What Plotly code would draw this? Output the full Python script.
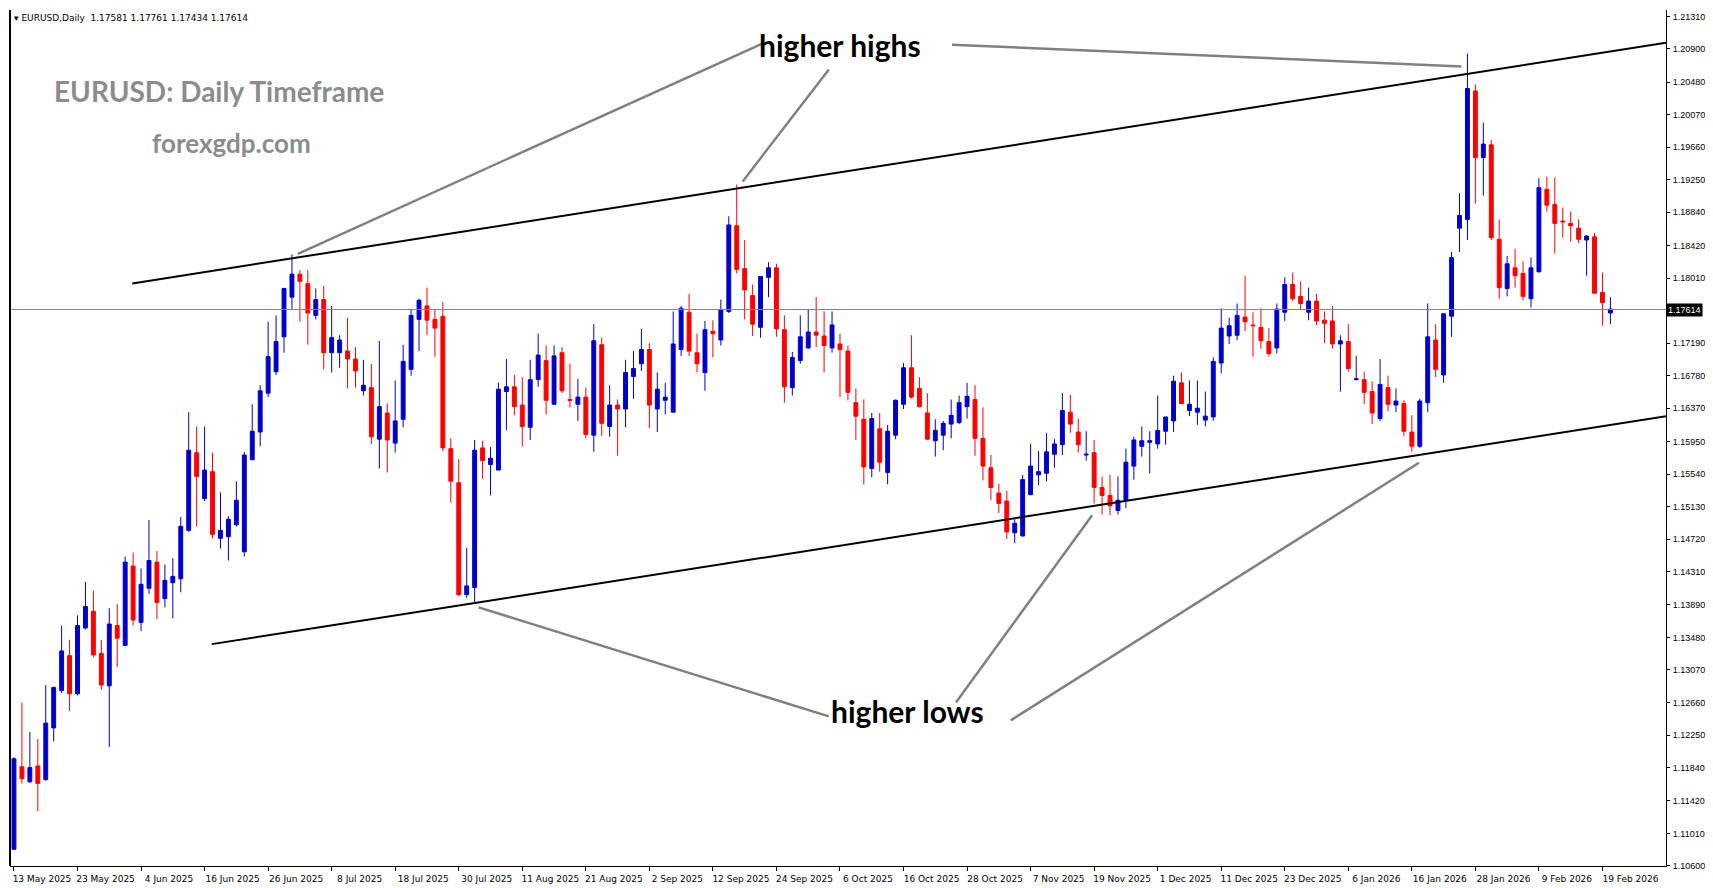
import plotly.graph_objects as go

opens = [1.1081,1.1185,1.1166,1.1186,1.1169,1.1234,1.1281,1.1325,1.1277,1.1360,
1.1381,1.1328,1.1287,1.1363,1.1338,1.1438,1.1367,1.1410,1.1443,1.1397,
1.1417,1.1422,1.1483,1.1581,1.1523,1.1557,1.1473,1.1475,1.1490,1.1456,
1.1572,1.1607,1.1656,1.1683,1.1727,1.1777,1.1806,1.1794,1.1754,1.1774,
1.1707,1.1707,1.1709,1.1699,1.1659,1.1663,1.1598,1.1631,1.1593,1.1623,
1.1686,1.1749,1.1766,1.1749,1.1753,1.1586,1.1543,1.1402,1.1411,1.1587,
1.1566,1.1559,1.1658,1.1664,1.1641,1.1613,1.1673,1.1697,1.1642,1.1707,
1.1648,1.1642,1.1651,1.1603,1.1717,1.1614,1.1641,1.1636,1.1677,1.1693,
1.1711,1.1636,1.1647,1.1632,1.1711,1.1758,1.1707,1.1682,1.1734,1.1723,
1.1759,1.1867,1.1813,1.1779,1.1739,1.1802,1.1814,1.1736,1.1663,1.1697,
1.1713,1.1733,1.1728,1.1713,1.1718,1.1709,1.1644,1.1623,1.1561,1.1611,
1.1556,1.1603,1.1642,1.1688,1.1662,1.1631,1.1596,1.1603,1.1617,1.1619,
1.1639,1.1648,1.1599,1.1562,1.1530,1.1520,1.1480,1.1476,1.1528,1.1553,
1.1555,1.1579,1.1591,1.1632,1.1607,1.1578,1.1581,1.1537,1.1527,1.1508,
1.1521,1.1564,1.1589,1.1594,1.1592,1.1608,1.1621,1.1669,1.1634,1.1632,
1.1622,1.1626,1.1694,1.1728,1.1729,1.1752,1.1742,1.1739,1.1721,1.1713,
1.1758,1.1793,1.1778,1.1758,1.1772,1.1748,1.1747,1.1718,1.1721,1.1673,
1.1673,1.1658,1.1624,1.1663,1.1641,1.1643,1.1607,1.1589,1.1644,1.1723,
1.1679,1.1753,1.1864,1.1875,1.2037,1.1953,1.1969,1.1850,1.1788,1.1814,
1.1807,1.1775,1.1809,1.1913,1.1894,1.1873,1.1870,1.1864,1.1849,1.1853,
1.1783,1.1757]

highs = [1.1197,1.1266,1.1229,1.1220,1.1288,1.1286,1.1363,1.1345,1.1376,1.1418,
1.1407,1.1345,1.1385,1.1390,1.1450,1.1455,1.1435,1.1496,1.1457,1.1440,
1.1448,1.1500,1.1632,1.1614,1.1614,1.1581,1.1531,1.1501,1.1545,1.1582,
1.1642,1.1666,1.1746,1.1754,1.1788,1.1831,1.1811,1.1811,1.1788,1.1791,
1.1766,1.1729,1.1751,1.1714,1.1698,1.1693,1.1722,1.1643,1.1672,1.1717,
1.1761,1.1775,1.1789,1.1761,1.1771,1.1599,1.1573,1.1461,1.1597,1.1596,
1.1588,1.1669,1.1699,1.1679,1.1676,1.1698,1.1731,1.1716,1.1716,1.1714,
1.1693,1.1674,1.1663,1.1743,1.1726,1.1666,1.1648,1.1698,1.1709,1.1737,
1.1719,1.1682,1.1669,1.1759,1.1766,1.1781,1.1731,1.1747,1.1748,1.1774,
1.1879,1.1919,1.1849,1.1793,1.1803,1.1821,1.1819,1.1754,1.1708,1.1754,
1.1762,1.1777,1.1759,1.1759,1.1731,1.1716,1.1662,1.1648,1.1631,1.1631,
1.1616,1.1648,1.1694,1.1729,1.1676,1.1656,1.1623,1.1621,1.1648,1.1653,
1.1669,1.1666,1.1638,1.1578,1.1542,1.1533,1.1497,1.1553,1.1592,1.1583,
1.1606,1.1598,1.1656,1.1654,1.1624,1.1608,1.1597,1.1551,1.1553,1.1551,
1.1586,1.1601,1.1614,1.1608,1.1653,1.1626,1.1678,1.1682,1.1672,1.1672,
1.1658,1.1701,1.1763,1.1751,1.1769,1.1804,1.1758,1.1763,1.1738,1.1769,
1.1802,1.1808,1.1797,1.1789,1.1781,1.1759,1.1766,1.1729,1.1743,1.1703,
1.1683,1.1671,1.1699,1.1678,1.1662,1.1647,1.1628,1.1649,1.1769,1.1743,
1.1757,1.1834,1.1908,1.2084,1.2045,1.1997,1.1975,1.1875,1.1829,1.1838,
1.1822,1.1827,1.1927,1.1929,1.1928,1.1890,1.1885,1.1875,1.1855,1.1858,
1.1808,1.1777]

lows = [1.1080,1.1164,1.1165,1.1129,1.1167,1.1217,1.1278,1.1255,1.1275,1.1358,
1.1323,1.1282,1.1210,1.1311,1.1337,1.1363,1.1356,1.1403,1.1371,1.1386,
1.1372,1.1405,1.1481,1.1488,1.1520,1.1473,1.1460,1.1445,1.1488,1.1450,
1.1572,1.1589,1.1651,1.1679,1.1707,1.1761,1.1746,1.1717,1.1749,1.1686,
1.1682,1.1688,1.1662,1.1663,1.1653,1.1592,1.1561,1.1556,1.1581,1.1613,
1.1678,1.1709,1.1729,1.1702,1.1583,1.1518,1.1400,1.1398,1.1391,1.1548,
1.1527,1.1559,1.1609,1.1628,1.1589,1.1597,1.1664,1.1629,1.1641,1.1656,
1.1638,1.1621,1.1599,1.1582,1.1602,1.1601,1.1577,1.1613,1.1649,1.1684,
1.1612,1.1607,1.1629,1.1632,1.1703,1.1703,1.1682,1.1659,1.1701,1.1716,
1.1757,1.1807,1.1749,1.1728,1.1726,1.1777,1.1727,1.1644,1.1653,1.1693,
1.1712,1.1714,1.1682,1.1707,1.1651,1.1647,1.1597,1.1541,1.1550,1.1557,
1.1541,1.1598,1.1636,1.1649,1.1638,1.1597,1.1576,1.1584,1.1599,1.1617,
1.1624,1.1577,1.1546,1.1521,1.1505,1.1472,1.1467,1.1475,1.1528,1.1540,
1.1545,1.1562,1.1578,1.1606,1.1581,1.1571,1.1517,1.1503,1.1502,1.1503,
1.1511,1.1547,1.1576,1.1555,1.1586,1.1591,1.1607,1.1642,1.1627,1.1616,
1.1614,1.1621,1.1681,1.1718,1.1723,1.1734,1.1702,1.1712,1.1702,1.1706,
1.1747,1.1772,1.1761,1.1748,1.1742,1.1719,1.1712,1.1658,1.1683,1.1672,
1.1642,1.1617,1.1621,1.1633,1.1632,1.1602,1.1582,1.1587,1.1632,1.1676,
1.1669,1.1727,1.1834,1.1849,1.1895,1.1905,1.1849,1.1775,1.1778,1.1789,
1.1773,1.1764,1.1808,1.1885,1.1832,1.1852,1.1847,1.1845,1.1804,1.1782,
1.1741,1.1743]

closes = [1.1195,1.1170,1.1184,1.1164,1.1240,1.1285,1.1331,1.1277,1.1363,1.1387,
1.1326,1.1288,1.1365,1.1347,1.1443,1.1370,1.1415,1.1445,1.1392,1.1420,
1.1425,1.1488,1.1584,1.1551,1.1559,1.1478,1.1483,1.1497,1.1521,1.1578,
1.1608,1.1659,1.1702,1.1721,1.1788,1.1806,1.1797,1.1757,1.1774,1.1707,
1.1726,1.1723,1.1699,1.1684,1.1666,1.1601,1.1639,1.1597,1.1621,1.1696,
1.1754,1.1773,1.1748,1.1738,1.1587,1.1545,1.1402,1.1413,1.1584,1.1571,
1.1574,1.1661,1.1664,1.1639,1.1614,1.1673,1.1704,1.1647,1.1703,1.1659,
1.1647,1.1651,1.1604,1.1722,1.1618,1.1641,1.1636,1.1682,1.1687,1.1711,
1.1641,1.1661,1.1651,1.1718,1.1763,1.1709,1.1693,1.1736,1.1731,1.1761,
1.1868,1.1812,1.1786,1.1743,1.1803,1.1814,1.1737,1.1664,1.1701,1.1727,
1.1733,1.1729,1.1716,1.1742,1.1711,1.1657,1.1627,1.1563,1.1624,1.1569,
1.1608,1.1647,1.1688,1.1651,1.1639,1.1598,1.1609,1.1618,1.1628,1.1644,
1.1652,1.1599,1.1564,1.1537,1.1517,1.1481,1.1492,1.1547,1.1564,1.1557,
1.1582,1.1592,1.1634,1.1617,1.1591,1.1579,1.1537,1.1527,1.1514,1.1521,
1.1569,1.1597,1.1596,1.1596,1.1609,1.1626,1.1671,1.1643,1.1642,1.1637,
1.1627,1.1696,1.1738,1.1741,1.1754,1.1746,1.1741,1.1722,1.1706,1.1762,
1.1793,1.1775,1.1769,1.1772,1.1747,1.1744,1.1718,1.1722,1.1687,1.1674,
1.1657,1.1631,1.1667,1.1642,1.1646,1.1608,1.1589,1.1646,1.1727,1.1686,
1.1756,1.1827,1.1880,1.2040,1.1953,1.1970,1.1852,1.1789,1.1819,1.1804,
1.1778,1.1814,1.1915,1.1893,1.1870,1.1872,1.1867,1.1850,1.1854,1.1782,
1.1770,1.1762]

date_labels = ["13 May 2025","23 May 2025","4 Jun 2025","16 Jun 2025","26 Jun 2025",
"8 Jul 2025","18 Jul 2025","30 Jul 2025","11 Aug 2025","21 Aug 2025","2 Sep 2025",
"12 Sep 2025","24 Sep 2025","6 Oct 2025","16 Oct 2025","28 Oct 2025","7 Nov 2025",
"19 Nov 2025","1 Dec 2025","11 Dec 2025","23 Dec 2025","6 Jan 2026","16 Jan 2026",
"28 Jan 2026","9 Feb 2026","19 Feb 2026"]
price_ticks = [1.21310,1.20900,1.20480,1.20070,1.19660,1.19250,1.18840,1.18420,1.18010,
1.17190,1.16780,1.16370,1.15950,1.15540,1.15130,1.14720,1.14310,1.13890,1.13480,
1.13070,1.12660,1.12250,1.11840,1.11420,1.11010,1.10600]
current_price = 1.17614

# trendlines (bar index, price)
upper_x = [14.9, 208.0]; upper_y = [1.17943, 1.20978]
lower_x = [24.9, 208.0]; lower_y = [1.13396, 1.16269]
# pointer lines: (x0, y0, x1, y1)
hh_lines = [(94.5,1.2098,35.75,1.18317),(102.6,1.20641,91.75,1.19229),(118.1,1.20953,182.25,1.20678)]
hl_lines = [(102.6,1.12485,58.5,1.13859),(118.6,1.12660,135.75,1.15020),(125.5,1.12435,176.9,1.15682)]

idx = list(range(len(closes)))
fig = go.Figure()
fig.add_trace(go.Candlestick(x=idx, open=opens, high=highs, low=lows, close=closes,
    increasing=dict(line=dict(color="#0000CD", width=1), fillcolor="#0000CD"),
    decreasing=dict(line=dict(color="#FF0000", width=1), fillcolor="#FF0000"),
    whiskerwidth=0, showlegend=False, hoverinfo="skip"))

shapes = [dict(type="line", xref="x", yref="y", x0=upper_x[0], y0=upper_y[0], x1=upper_x[1], y1=upper_y[1], line=dict(color="black", width=2)),
          dict(type="line", xref="x", yref="y", x0=lower_x[0], y0=lower_y[0], x1=lower_x[1], y1=lower_y[1], line=dict(color="black", width=2)),
          dict(type="line", xref="paper", yref="y", x0=0, x1=1, y0=current_price, y1=current_price, line=dict(color="#778899", width=1))]
for (a, b, c, d) in hh_lines + hl_lines:
    shapes.append(dict(type="line", xref="x", yref="y", x0=a, y0=b, x1=c, y1=d, line=dict(color="#808080", width=2.5)))

ann = [
    dict(text="higher highs", x=104.0, y=1.2095, xref="x", yref="y", showarrow=False, font=dict(family="Lato", size=30, color="black", weight="bold")),
    dict(text="higher lows", x=112.5, y=1.1255, xref="x", yref="y", showarrow=False, font=dict(family="Lato", size=30, color="black", weight="bold")),
    dict(text="EURUSD: Daily Timeframe", x=0.0256, y=0.928, xref="paper", yref="paper", xanchor="left", showarrow=False, font=dict(family="Lato", size=28, color="#8c8c8c", weight="bold")),
    dict(text="forexgdp.com", x=0.0846, y=0.866, xref="paper", yref="paper", xanchor="left", showarrow=False, font=dict(family="Lato", size=26, color="#8c8c8c", weight="bold")),
    dict(text="▾ EURUSD,Daily  1.17581 1.17761 1.17434 1.17614", x=0.001, y=0.999, xref="paper", yref="paper", xanchor="left", yanchor="top", showarrow=False, font=dict(family="DejaVu Sans", size=9, color="black")),
    dict(text="%.5f" % current_price, x=1, y=current_price, xref="paper", yref="y", xanchor="left", showarrow=False, bgcolor="black", borderpad=1, font=dict(family="Liberation Sans", size=9, color="white")),
]

fig.update_layout(width=1698, height=880, margin=dict(l=2, r=40, t=2, b=22),
    paper_bgcolor="white", plot_bgcolor="white", shapes=shapes, annotations=ann,
    xaxis=dict(rangeslider=dict(visible=False), range=[-0.5, 208], tickmode="array",
               tickvals=[8*i for i in range(len(date_labels))], ticktext=date_labels,
               ticks="outside", ticklen=4, tickcolor="black", showgrid=False, zeroline=False,
               showline=True, linecolor="black", ticklabelshift=28,
               tickfont=dict(family="DejaVu Sans", size=9, color="black")),
    yaxis=dict(side="right", range=[1.10599, 1.2139], tickmode="array", tickvals=price_ticks,
               ticktext=["%.5f" % v for v in price_ticks], ticks="outside", ticklen=3, tickcolor="black",
               ticklabelstandoff=1, showgrid=False, zeroline=False, showline=True, linecolor="black",
               tickfont=dict(family="Liberation Sans", size=9, color="black")),
)
fig.add_shape(type="line", xref="paper", yref="paper", x0=0, x1=0, y0=0, y1=1, line=dict(color="black", width=2))
fig.write_html("out.html")
